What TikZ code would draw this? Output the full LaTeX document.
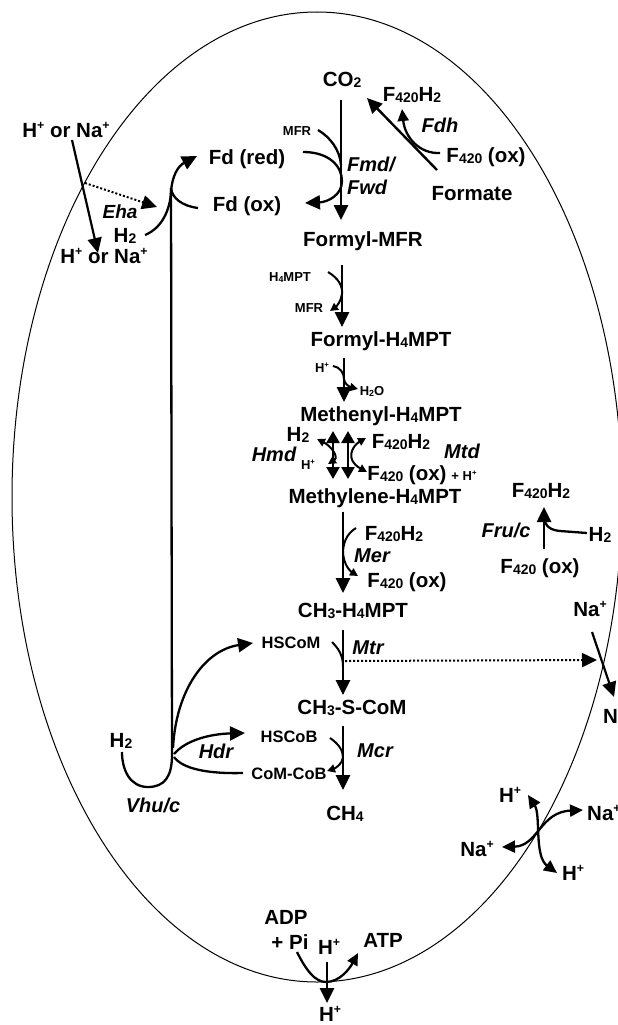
\documentclass[tikz,border=0pt]{standalone}
\usepackage{graphicx}
\usepackage{fontspec}
\setmainfont{Liberation Sans}
\usetikzlibrary{arrows.meta}
\newcommand{\lo}[1]{\raisebox{-0.15ex}{\scalebox{0.68}{#1}}}
\newcommand{\hi}[1]{\raisebox{0.68ex}{\scalebox{0.6}{#1}}}
\tikzset{
 lbl/.style={inner sep=0pt, anchor=base, font=\fontsize{20.5}{24}\selectfont\bfseries},
 ita/.style={inner sep=0pt, anchor=base, font=\fontsize{20}{24}\selectfont\bfseries\itshape},
 med/.style={inner sep=0pt, anchor=base, font=\fontsize{16.5}{20}\selectfont\bfseries},
 sml/.style={inner sep=0pt, anchor=base, font=\fontsize{13}{15}\selectfont\bfseries},
 flow/.style={line width=2.6pt, -{Triangle[length=15pt,width=14pt]}},
 arcline/.style={line width=2.3pt},
 bigtip/.style={-{Triangle[length=15pt,width=14pt]}},
 midtip/.style={-{Triangle[length=12pt,width=11pt]}},
 smalltip/.style={-{Triangle[length=8pt,width=8pt]}},
 bothsmall/.style={{Triangle[length=8pt,width=8pt]}-{Triangle[length=8pt,width=8pt]}},
 bothmid/.style={{Triangle[length=13pt,width=12pt]}-{Triangle[length=13pt,width=12pt]}},
 bothbig/.style={line width=2.6pt,{Triangle[length=12pt,width=13pt]}-{Triangle[length=12pt,width=13pt]}},
}
\begin{document}
\begin{tikzpicture}[x=1pt,y=-1pt]
\useasboundingbox (0,0) rectangle (618,1025);
% cell membrane
\draw[line width=1pt] (317,497) ellipse [x radius=305, y radius=485];

% ---------- labels ----------
\node[lbl] (hna1) at (66,137) {H\hi{+} or Na\hi{+}};
\node[lbl] (hna2) at (104,263) {H\hi{+} or Na\hi{+}};
\node[ita, font=\fontsize{19}{22}\selectfont\bfseries\itshape] (eha) at (120,218) {Eha};
\node[lbl] (h2a) at (125,242) {H\lo{2}};
\node[lbl] (fdred) at (247,164) {Fd (red)};
\node[lbl] (fdox) at (247,211) {Fd (ox)};
\node[sml] (mfr1) at (297,135) {MFR};
\node[lbl] (co2) at (342,86) {CO\lo{2}};
\node[lbl] (f420h2a) at (412,101) {F\lo{420}H\lo{2}};
\node[ita] (fdh) at (440,132) {Fdh};
\node[lbl] (f420oxa) at (486,162) {F\lo{420} (ox)};
\node[lbl] (formate) at (472,200) {Formate};
\node[ita, anchor=base west] (fmd) at (347,171) {Fmd/};
\node[ita, anchor=base west] (fwd) at (347,194) {Fwd};
\node[lbl] (formylmfr) at (363,246) {Formyl-MFR};
\node[sml] (h4mpt) at (290,281) {H\lo{4}MPT};
\node[sml] (mfr2) at (309,312) {MFR};
\node[lbl] (formylh4) at (381,346) {Formyl-H\lo{4}MPT};
\node[sml] (hp1) at (322,372) {H\hi{+}};
\node[sml] (h2o) at (372,395) {H\lo{2}O};
\node[lbl] (methenyl) at (381,421) {Methenyl-H\lo{4}MPT};
\node[lbl] (h2b) at (298,441) {H\lo{2}};
\node[ita] (hmd) at (274,461) {Hmd};
\node[sml] (hp2) at (308,469) {H\hi{+}};
\node[lbl] (f420h2b) at (401,448) {F\lo{420}H\lo{2}};
\node[ita] (mtd) at (462,458) {Mtd};
\node[lbl] (f420oxb) at (407,480) {F\lo{420} (ox)};
\node[sml] (plush) at (464,480) {+ H\hi{+}};
\node[lbl] (methylene) at (375,503) {Methylene-H\lo{4}MPT};
\node[lbl] (f420h2c) at (394,540) {F\lo{420}H\lo{2}};
\node[ita] (mer) at (372,562) {Mer};
\node[lbl] (f420oxc) at (407,587) {F\lo{420} (ox)};
\node[lbl] (ch3h4) at (353,617) {CH\lo{3}-H\lo{4}MPT};
\node[med] (hscom) at (291,648) {HSCoM};
\node[ita] (mtr) at (368,654) {Mtr};
\node[lbl] (ch3scom) at (352,714) {CH\lo{3}-S-CoM};
\node[med] (hscob) at (289,742) {HSCoB};
\node[ita] (mcr) at (375,757) {Mcr};
\node[med] (comcob) at (289,779) {CoM-CoB};
\node[lbl] (ch4) at (345,820) {CH\lo{4}};
\node[lbl] (h2c) at (121,747) {H\lo{2}};
\node[ita] (vhuc) at (153,812) {Vhu/c};
\node[ita] (hdr) at (216,758) {Hdr};
\node[lbl] (f420h2d) at (541,497) {F\lo{420}H\lo{2}};
\node[ita] (fruc) at (506,537) {Fru/c};
\node[lbl] (h2d) at (600,541) {H\lo{2}};
\node[lbl] (f420oxd) at (540,573) {F\lo{420} (ox)};
\node[lbl] (na1) at (590,616) {Na\hi{+}};
\node[lbl, anchor=base west] (na2) at (603,723) {Na\hi{+}};
\node[lbl] (hp3) at (510,802) {H\hi{+}};
\node[lbl, anchor=base west] (na3) at (587,820) {Na\hi{+}};
\node[lbl] (na4) at (477,856) {Na\hi{+}};
\node[lbl] (hp4) at (573,880) {H\hi{+}};
\node[lbl] (adp) at (286,924) {ADP};
\node[lbl] (pi) at (290,949) {+ Pi};
\node[lbl] (hp5) at (329,954) {H\hi{+}};
\node[lbl] (atp) at (383,947) {ATP};
\node[lbl] (hp6) at (330,1021) {H\hi{+}};

% ---------- connector end points ----------
\coordinate (ionA) at (72,140);
\coordinate (ionB) at (98,253);
\coordinate (ehaS) at (85,183);
\coordinate (ehaT) at (157,207);
\coordinate (h2aS) at (145,235);
\coordinate (fdJ) at (171,188);
\coordinate (fdredT) at (197,156);
\coordinate (fdoxS) at (198,208);
\coordinate (vhuJ) at (172,755);
\coordinate (h2cS) at (122,752);
\coordinate (hscomT) at (253,643);
\coordinate (hscobT) at (245,733);
\coordinate (comcobS) at (243,773);
\coordinate (fdredS) at (303,152);
\coordinate (fdoxT) at (305,203);
\coordinate (mfr1S) at (318,130);
\coordinate (fmdM) at (341,165);
\coordinate (co2S) at (341,100);
\coordinate (co2T) at (341,220);
\coordinate (formS) at (437,170);
\coordinate (formT) at (367,98);
\coordinate (fdhS) at (440,153);
\coordinate (fdhT) at (402,109);
\coordinate (v2S) at (342,265);
\coordinate (v2T) at (342,327);
\coordinate (h4S) at (328,272);
\coordinate (mfr2T) at (330,311);
\coordinate (v3S) at (344,358);
\coordinate (v3T) at (344,402);
\coordinate (hp1S) at (333,366);
\coordinate (h2oT) at (358,389);
\coordinate (xAt) at (333,431);
\coordinate (xAb) at (333,479);
\coordinate (xBt) at (348,431);
\coordinate (xBb) at (348,479);
\coordinate (hmdT) at (317,439);
\coordinate (hmdB) at (328,464);
\coordinate (mtdT) at (366,438);
\coordinate (mtdB) at (367,472);
\coordinate (v4S) at (343,512);
\coordinate (v4T) at (343,593);
\coordinate (merS) at (356,528);
\coordinate (merT) at (358,576);
\coordinate (v5S) at (343,630);
\coordinate (v5T) at (343,695);
\coordinate (hscomS) at (332,642);
\coordinate (mtrS) at (345,661);
\coordinate (mtrT) at (597,660);
\coordinate (v6S) at (343,726);
\coordinate (v6T) at (343,790);
\coordinate (hscobS) at (330,738);
\coordinate (comcobT) at (327,771);
\coordinate (fruS) at (544,549);
\coordinate (fruT) at (544,507);
\coordinate (h2dS) at (587,533);
\coordinate (naS) at (592,632);
\coordinate (naT) at (614,697);
\coordinate (apHt) at (528,795);
\coordinate (apHb) at (557,873);
\coordinate (apNr) at (583,810);
\coordinate (apNl) at (502,847);
\coordinate (atpS) at (327,962);
\coordinate (atpT) at (327,1003);
\coordinate (adpS) at (297,952);
\coordinate (atpE) at (358,953);

% ---------- connectors ----------
% ion translocation by Eha
\draw[line width=2.2pt, bigtip] (ionA) -- (ionB);
\draw[line width=2pt, dash pattern=on 2pt off 2pt, bigtip] (ehaS) -- (ehaT);
% H2 -> Fd(red), Fd(ox) joining
\draw[arcline, bigtip] (h2aS) .. controls (162,228) and (170,210) .. (171,192)
   .. controls (172,176) and (178,166) .. (fdredT);
\draw[arcline] (fdoxS) .. controls (182,206) and (172,198) .. (fdJ);
% long electron line down to Vhu/c
\draw[arcline] (fdJ) -- (vhuJ) .. controls (172,776) and (165,787) .. (148,787)
   .. controls (130,787) and (122,770) .. (h2cS);
\draw[arcline, bigtip] (173,748) .. controls (176,690) and (205,650) .. (hscomT);
\draw[arcline, bigtip] (174,754) .. controls (186,740) and (210,734) .. (hscobT);
\draw[arcline] (comcobS) .. controls (205,774) and (182,768) .. (174,757);

% Fmd/Fwd
\draw[flow] (co2S) -- (co2T);
\draw[arcline] (mfr1S) .. controls (330,137) and (340,150) .. (fmdM);
\draw[arcline, bigtip] (fdredS) .. controls (330,152) and (342,167) .. (342,181)
   .. controls (342,195) and (328,202) .. (fdoxT);
% Fdh
\draw[line width=2.4pt, bigtip] (formS) -- (formT);
\draw[arcline, midtip] (fdhS) .. controls (420,154) and (405,138) .. (fdhT);

% Ftr
\draw[flow] (v2S) -- (v2T);
\draw[line width=2pt, smalltip] (h4S) .. controls (338,278) and (343,286) .. (342,294)
   .. controls (341,301) and (337,306) .. (mfr2T);
% Mch
\draw[flow] (v3S) -- (v3T);
\draw[line width=2pt, smalltip] (hp1S) .. controls (340,367) and (344,373) .. (344,379)
   .. controls (344,384) and (350,387) .. (h2oT);
% Hmd / Mtd
\draw[bothbig] (xAt) -- (xAb);
\draw[bothbig] (xBt) -- (xBb);
\draw[line width=2pt, bothsmall] (hmdT) .. controls (331,446) and (339,457) .. (hmdB);
\draw[line width=2pt, bothsmall] (mtdT) .. controls (352,446) and (345,460) .. (mtdB);
% Mer
\draw[flow] (v4S) -- (v4T);
\draw[line width=2pt, smalltip] (merS) .. controls (346,534) and (343,544) .. (343,553)
   .. controls (344,565) and (350,571) .. (merT);
% Mtr
\draw[flow] (v5S) -- (v5T);
\draw[line width=2pt] (hscomS) .. controls (338,648) and (343,655) .. (343,666);
\draw[line width=2pt, dash pattern=on 2pt off 2pt, bigtip] (mtrS) -- (mtrT);
% Mcr
\draw[flow] (v6S) -- (v6T);
\draw[line width=2pt, smalltip] (hscobS) .. controls (339,744) and (343,751) .. (343,757)
   .. controls (343,763) and (336,768) .. (comcobT);
% Fru/c
\draw[flow] (fruS) -- (fruT);
\draw[arcline] (h2dS) -- (560,531) .. controls (551,530) and (545,527) .. (544,517);
% Na+ out via Mtr
\draw[line width=2.2pt, bigtip] (naS) -- (naT);
% Na+/H+ antiporter
\draw[arcline, bothmid] (apHt) .. controls (541,815) and (534,856) .. (apHb);
\draw[arcline, bothmid] (apNr) .. controls (540,812) and (538,846) .. (apNl);
% ATP synthase
\draw[flow] (atpS) -- (atpT);
\draw[arcline, midtip] (adpS) .. controls (306,970) and (315,982) .. (326,982)
   .. controls (340,982) and (350,968) .. (atpE);
\end{tikzpicture}
\end{document}
